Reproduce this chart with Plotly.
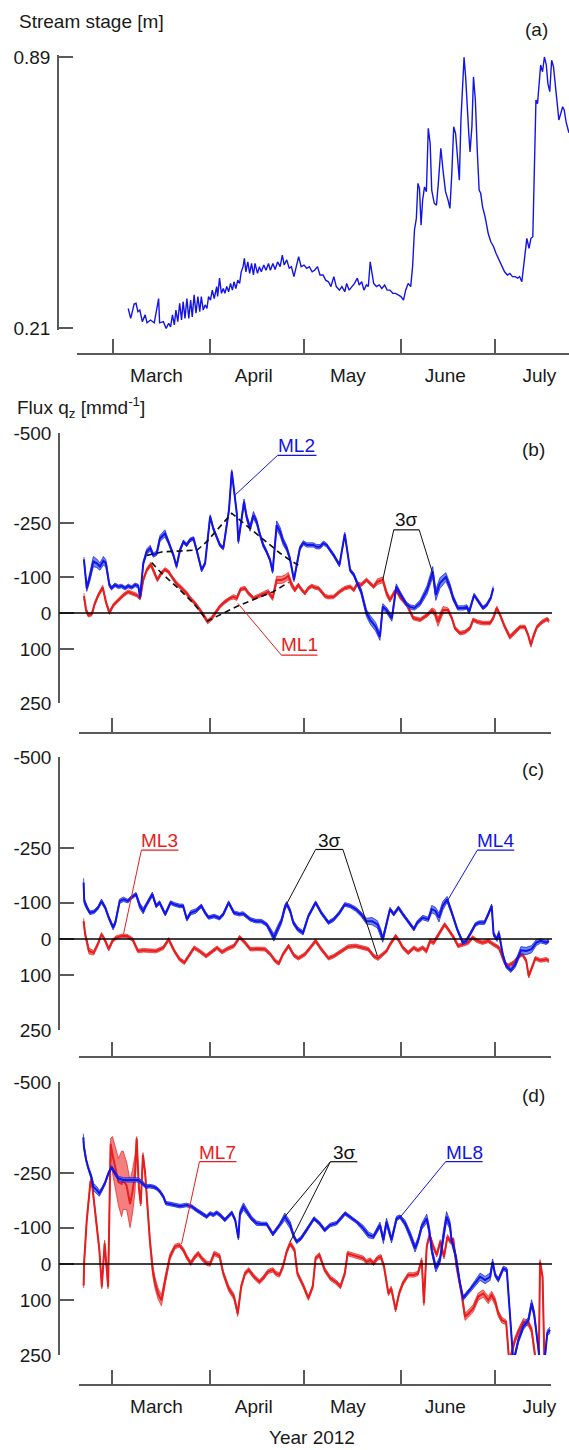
import numpy as np
import pandas as pd
import plotly.graph_objects as go

# ---------------------------------------------------------------- data
ORIGIN = pd.Timestamp("2012-03-01")   # day 0 = 1 March 2012

months = ["March", "April", "May", "June", "July"]
month_start = ["2012-03-01", "2012-04-01", "2012-05-01", "2012-06-01", "2012-07-01"]
month_label_at = ["2012-03-15", "2012-04-15", "2012-05-15", "2012-06-15", "2012-07-15"]
stage_ticks = [0.21, 0.89]
flux_ticks = [-500, -250, -100, 0, 100, 250]
flux_ticktext = ["-500", "-250", "-100", "0", "100", "250"]

# (a) stream stage [m], days since 1 March
stage_day = [
    5.0, 5.8, 6.9, 7.5, 8.1, 8.7, 9.5, 10.4, 11.0, 12.1,
    13.3, 14.7, 15.0, 16.2, 17.1, 17.9, 18.5, 19.1, 19.7, 20.2,
    20.8, 21.4, 22.0, 22.5, 23.1, 23.7, 24.3, 24.9, 25.4, 26.0,
    26.6, 27.2, 27.8, 28.3, 28.9, 29.5, 30.1, 30.6, 31.2, 31.8,
    32.4, 33.2, 33.5, 34.1, 34.7, 35.3, 35.8, 36.4, 37.0, 37.6,
    38.2, 38.7, 39.3, 39.9, 40.5, 41.0, 41.6, 42.0, 42.5, 43.1,
    43.7, 44.3, 44.9, 45.4, 46.2, 46.8, 47.4, 48.2, 48.9, 49.7,
    50.3, 51.1, 51.8, 52.6, 53.4, 54.1, 54.7, 55.5, 56.3, 57.0,
    57.8, 58.6, 59.3, 60.1, 61.0, 61.9, 62.7, 63.6, 64.4, 65.3,
    66.1, 67.1, 67.9, 68.8, 69.6, 70.5, 71.3, 72.3, 73.1, 74.0,
    74.6, 75.4, 76.3, 77.1, 78.0, 78.6, 79.4, 80.1, 80.9, 81.5,
    82.1, 82.7, 83.2, 84.1, 85.0, 85.8, 86.7, 87.5, 88.4, 89.3,
    90.2, 91.0, 91.9, 92.7, 93.4, 94.2, 95.0, 95.6, 96.2, 96.8,
    97.3, 97.8, 98.3, 98.8, 99.4, 100.0, 100.6, 101.2, 101.7, 102.5,
    103.2, 103.8, 104.6, 105.4, 106.1, 106.9, 107.5, 108.1, 108.7, 109.3,
    110.1, 110.5, 111.0, 111.6, 112.0, 112.5, 113.1, 113.5, 113.9, 114.5,
    115.0, 115.6, 116.2, 116.8, 117.3, 117.9, 118.7, 119.7, 120.5, 121.4,
    122.2, 123.1, 123.9, 124.9, 125.8, 126.6, 127.4, 128.3, 129.1, 129.7,
    130.4, 130.9, 131.5, 132.0, 132.7, 133.3, 133.9, 134.3, 134.9, 135.4,
    135.8, 136.4, 137.0, 137.6, 138.2, 138.7, 139.3, 139.9, 140.5, 141.0,
    141.6, 142.2, 142.8, 143.4, 143.9, 144.5, 145.4]
stage_m = [
    0.259, 0.234, 0.270, 0.272, 0.251, 0.255, 0.226, 0.243, 0.223, 0.230,
    0.223, 0.284, 0.223, 0.226, 0.209, 0.222, 0.213, 0.243, 0.218, 0.255,
    0.226, 0.272, 0.230, 0.276, 0.234, 0.284, 0.234, 0.280, 0.238, 0.293,
    0.247, 0.289, 0.251, 0.289, 0.255, 0.268, 0.259, 0.289, 0.280, 0.305,
    0.284, 0.314, 0.289, 0.335, 0.297, 0.309, 0.297, 0.314, 0.301, 0.322,
    0.305, 0.326, 0.309, 0.330, 0.322, 0.351, 0.364, 0.385, 0.351, 0.376,
    0.347, 0.372, 0.343, 0.372, 0.347, 0.364, 0.351, 0.368, 0.355, 0.372,
    0.355, 0.372, 0.357, 0.376, 0.364, 0.393, 0.368, 0.381, 0.360, 0.364,
    0.339, 0.368, 0.389, 0.364, 0.368, 0.360, 0.364, 0.351, 0.355, 0.364,
    0.343, 0.343, 0.330, 0.326, 0.314, 0.339, 0.314, 0.305, 0.314, 0.301,
    0.322, 0.305, 0.314, 0.322, 0.335, 0.318, 0.326, 0.305, 0.318, 0.314,
    0.376, 0.343, 0.322, 0.314, 0.318, 0.309, 0.318, 0.305, 0.305, 0.297,
    0.297, 0.293, 0.289, 0.280, 0.305, 0.322, 0.314, 0.364, 0.456, 0.485,
    0.573, 0.560, 0.468, 0.531, 0.564, 0.552, 0.711, 0.673, 0.556, 0.523,
    0.518, 0.573, 0.661, 0.598, 0.552, 0.531, 0.510, 0.598, 0.715, 0.698,
    0.615, 0.581, 0.732, 0.832, 0.889, 0.840, 0.740, 0.698, 0.652, 0.715,
    0.840, 0.782, 0.656, 0.556, 0.548, 0.514, 0.489, 0.447, 0.427, 0.414,
    0.397, 0.381, 0.368, 0.351, 0.343, 0.347, 0.339, 0.339, 0.335, 0.339,
    0.326, 0.364, 0.410, 0.435, 0.410, 0.435, 0.439, 0.615, 0.782, 0.773,
    0.811, 0.870, 0.853, 0.890, 0.870, 0.824, 0.803, 0.882, 0.865, 0.824,
    0.782, 0.732, 0.748, 0.765, 0.757, 0.727, 0.700]

# (b) ML2 flux [mm/d] (negative = upward), and 3-sigma half width
ml2_day = [
    -9.1, -8.2, -7.2, -6.1, -5.0, -4.0, -2.9, -2.1, -1.0, -0.3,
    0.8, 1.9, 2.9, 4.0, 5.0, 6.1, 7.2, 8.2, 8.8, 9.8,
    10.9, 12.0, 13.0, 14.1, 15.1, 16.7, 17.8, 19.4, 20.4, 21.5,
    22.6, 23.6, 24.7, 25.8, 26.8, 27.7, 28.4, 29.5, 30.5, 31.1,
    32.1, 33.2, 34.2, 35.3, 36.4, 37.1, 38.0, 38.7, 39.6, 40.1,
    41.2, 41.9, 42.7, 43.8, 44.9, 45.9, 47.0, 48.0, 49.1, 50.2,
    51.0, 51.8, 52.3, 53.4, 54.4, 55.5, 56.5, 57.8, 58.7, 59.7,
    60.8, 61.9, 62.9, 64.0, 65.0, 66.1, 67.2, 68.2, 69.3, 70.5,
    72.3, 74.0, 75.7, 76.9, 78.0, 79.2, 80.9, 82.1, 83.8, 85.2,
    86.1, 87.3, 89.0, 90.4, 91.9, 93.6, 94.8, 96.2, 98.0, 100.2,
    102.0, 103.0, 104.3, 106.2, 107.5, 108.5, 110.0, 111.7, 112.9, 113.6,
    115.2, 116.4, 118.0, 119.2, 120.5, 121.3]
ml2_q = [
    -149, -68, -101, -143, -138, -129, -145, -138, -78, -69,
    -78, -73, -75, -69, -75, -71, -78, -75, -44, -138,
    -170, -180, -161, -166, -207, -221, -198, -161, -129, -175,
    -198, -189, -203, -207, -175, -143, -119, -138, -212, -268,
    -235, -212, -189, -180, -249, -286, -393, -342, -277, -198,
    -268, -309, -268, -235, -272, -254, -217, -189, -170, -147,
    -115, -194, -244, -226, -198, -180, -152, -92, -138, -180,
    -195, -189, -189, -189, -184, -184, -194, -189, -175, -160,
    -133, -219, -119, -106, -82, -60, 0, 19, 38, 66,
    -18, -8, 15, -73, -50, -25, -17, -14, -28, -64,
    -114, -50, -83, -100, -72, -42, -14, -14, -17, -3,
    -50, -36, -14, -22, -42, -69]
ml2_s = [
    6, 8, 12, 14, 12, 10, 12, 10, 6, 5,
    5, 5, 5, 5, 5, 5, 5, 5, 4, 6,
    8, 8, 6, 6, 8, 10, 6, 5, 5, 5,
    5, 5, 5, 5, 5, 5, 5, 5, 5, 5,
    5, 5, 5, 5, 5, 5, 5, 5, 5, 5,
    6, 8, 8, 8, 10, 8, 6, 6, 5, 5,
    5, 10, 12, 12, 10, 8, 6, 5, 5, 6,
    6, 6, 6, 6, 6, 6, 6, 5, 5, 5,
    5, 5, 5, 5, 6, 8, 10, 12, 12, 10,
    8, 8, 8, 8, 6, 6, 6, 6, 8, 12,
    15, 15, 15, 12, 10, 8, 6, 6, 6, 6,
    5, 5, 5, 5, 5, 5]

# (b) ML1
ml1_day = [
    -9.1, -8.4, -7.7, -6.6, -5.6, -4.5, -3.1, -2.1, -1.0, 0.3,
    1.9, 3.5, 5.0, 6.6, 7.7, 8.8, 9.8, 10.9, 12.2, 13.0,
    14.3, 15.5, 16.7, 17.8, 18.8, 20.4, 22.0, 23.6, 24.7, 26.3,
    27.9, 29.2, 30.3, 31.6, 32.7, 34.2, 35.8, 37.4, 38.5, 39.6,
    40.8, 42.2, 43.3, 44.9, 46.5, 48.1, 49.6, 51.0, 52.3, 53.9,
    55.0, 56.0, 57.1, 58.1, 59.2, 60.3, 61.3, 62.4, 63.5, 64.5,
    65.6, 66.6, 67.7, 68.8, 70.5, 72.3, 74.0, 75.7, 76.9, 78.0,
    79.2, 80.9, 82.1, 83.2, 84.4, 86.1, 87.3, 88.4, 89.6, 90.4,
    91.6, 93.8, 95.8, 98.0, 100.2, 101.8, 102.7, 103.7, 105.3, 106.9,
    108.1, 109.1, 110.7, 112.3, 113.9, 114.9, 116.4, 118.0, 120.3, 121.3,
    122.4, 123.5, 125.0, 126.6, 128.2, 129.8, 131.4, 132.4, 133.3, 134.0,
    135.2, 136.8, 138.4, 139.1]
ml1_q = [
    -47, -8, 6, 3, -27, -50, -71, -31, -1, -22,
    -36, -50, -59, -54, -50, -41, -92, -119, -135, -119,
    -92, -110, -121, -115, -101, -82, -69, -55, -41, -27,
    -8, 10, 24, 15, 1, -18, -31, -41, -45, -41,
    -66, -69, -55, -41, -47, -53, -59, -41, -92, -92,
    -96, -103, -78, -64, -78, -64, -55, -69, -75, -71,
    -69, -59, -47, -44, -45, -59, -69, -73, -64, -82,
    -78, -92, -82, -73, -87, -92, -55, -36, -55, -64,
    -44, -22, 14, 19, 6, -8, 0, 25, -8, -8,
    14, 42, 56, 53, 42, 19, 25, 28, 28, 14,
    -14, 6, 39, 67, 53, 39, 39, 61, 89, 67,
    39, 25, 17, 22]
ml1_s = [
    8, 6, 5, 5, 5, 5, 6, 5, 5, 5,
    5, 5, 5, 5, 5, 5, 5, 5, 6, 6,
    5, 5, 5, 5, 5, 6, 6, 6, 6, 5,
    5, 6, 6, 6, 5, 5, 5, 5, 6, 6,
    5, 5, 5, 5, 5, 5, 6, 6, 10, 10,
    10, 10, 8, 6, 5, 5, 5, 5, 5, 5,
    5, 5, 5, 5, 5, 5, 5, 5, 5, 5,
    5, 5, 5, 5, 8, 8, 8, 6, 6, 6,
    5, 5, 5, 5, 5, 6, 10, 12, 10, 6,
    5, 5, 5, 5, 5, 5, 5, 5, 5, 5,
    5, 5, 5, 6, 6, 5, 5, 5, 6, 6,
    5, 5, 5, 5]

# (b) smoothed trends (dashed)
trend2_day = [11.0, 16.0, 21.0, 27.0, 30.0, 34.2, 38.0, 40.6, 43.8, 47.0, 50.2, 53.4, 56.5, 59.2]
trend2_q = [-160, -170, -172, -175, -198, -240, -277, -258, -235, -212, -189, -166, -147, -133]
trend1_day = [12.5, 15.7, 21.5, 25.8, 30.3, 34.2, 39.6, 45.9, 51.2, 56.1]
trend1_q = [-140, -110, -64, -27, 22, 6, -18, -41, -59, -85]

# (c) ML4
ml4_day = [
    -9.2, -9.0, -8.1, -7.2, -5.8, -4.6, -3.5, -2.3, -1.2, 0.2,
    0.9, 2.3, 3.5, 4.9, 6.0, 7.5, 8.7, 9.8, 10.6, 12.7,
    13.9, 15.0, 16.8, 18.5, 19.7, 21.4, 22.5, 23.7, 24.9, 26.6,
    28.3, 29.5, 30.6, 32.4, 34.1, 35.3, 37.0, 38.7, 40.5, 41.6,
    43.9, 45.7, 47.4, 49.1, 50.3, 51.4, 52.6, 53.8, 54.9, 55.5,
    56.6, 57.6, 59.0, 60.7, 62.4, 64.7, 66.5, 68.8, 70.5, 72.3,
    74.0, 75.7, 77.5, 79.2, 80.9, 82.7, 84.4, 85.5, 86.1, 87.3,
    88.4, 89.6, 91.1, 92.5, 94.2, 96.0, 97.1, 98.8, 100.6, 101.7,
    102.9, 104.0, 105.2, 106.6, 108.1, 109.8, 111.6, 112.7, 113.9, 115.6,
    116.8, 118.5, 119.7, 120.8, 121.4, 122.5, 123.1, 124.3, 125.4, 126.9,
    128.3, 130.1, 131.8, 133.5, 135.0, 136.4, 138.2, 139.0]
ml4_q = [
    -155, -104, -86, -72, -75, -86, -104, -86, -59, -31,
    -45, -104, -109, -104, -114, -123, -91, -77, -91, -123,
    -91, -100, -68, -100, -95, -91, -91, -54, -72, -77,
    -91, -72, -59, -63, -57, -68, -100, -72, -68, -70,
    -54, -49, -49, -40, -22, -4, -27, -49, -86, -97,
    -77, -45, -27, -17, -63, -100, -72, -45, -54, -72,
    -95, -91, -82, -68, -49, -49, -40, -17, 1, -40,
    -82, -68, -86, -68, -49, -27, -45, -59, -54, -82,
    -77, -59, -91, -109, -72, -27, 10, 5, -13, -40,
    -45, -45, -68, -91, -13, 1, -17, 42, 74, 86,
    70, 31, 33, 28, 10, 5, 10, 5]
ml4_s = [
    12, 8, 6, 5, 5, 5, 6, 5, 5, 6,
    6, 6, 6, 5, 5, 5, 8, 8, 6, 6,
    5, 5, 5, 5, 5, 5, 5, 5, 6, 6,
    5, 5, 5, 5, 5, 5, 5, 5, 5, 5,
    5, 5, 5, 5, 8, 10, 10, 8, 8, 6,
    6, 6, 6, 6, 5, 5, 5, 5, 5, 5,
    5, 5, 6, 6, 8, 10, 10, 10, 8, 6,
    5, 5, 5, 5, 5, 5, 6, 6, 6, 10,
    10, 12, 12, 8, 6, 5, 5, 5, 5, 5,
    5, 5, 5, 5, 6, 6, 6, 6, 6, 6,
    8, 10, 10, 10, 8, 6, 5, 5]

# (c) ML3
ml3_day = [
    -9.2, -8.7, -7.5, -6.0, -4.6, -3.5, -2.3, -1.2, 0.0, 1.2,
    2.9, 4.6, 6.4, 8.1, 9.8, 11.6, 13.9, 16.2, 17.9, 19.7,
    21.4, 22.9, 24.3, 26.0, 27.7, 29.8, 31.2, 33.3, 34.9, 36.4,
    38.7, 40.5, 42.2, 43.9, 46.2, 48.6, 50.3, 51.8, 53.0, 54.3,
    56.1, 57.8, 59.2, 61.3, 63.0, 64.7, 66.5, 68.8, 70.5, 72.8,
    75.1, 77.5, 79.8, 81.5, 83.2, 84.6, 86.1, 87.3, 88.4, 90.2,
    91.3, 92.5, 94.2, 96.0, 97.3, 98.8, 100.0, 101.2, 102.3, 104.0,
    105.8, 106.9, 108.7, 110.1, 111.6, 113.3, 114.7, 116.2, 117.9, 119.7,
    121.4, 123.1, 124.9, 126.0, 127.8, 129.5, 130.6, 131.8, 132.6, 133.5,
    134.7, 136.4, 138.2, 139.0]
ml3_q = [
    -49, -13, 33, 38, 13, -13, 5, 28, 5, -4,
    -8, -8, 1, 33, 31, 31, 33, 24, 1, 33,
    56, 65, 47, 24, 33, 47, 38, 24, 36, 28,
    19, -5, 10, 28, 27, 28, 42, 60, 67, 42,
    19, 45, 53, 42, 24, 5, 28, 53, 47, 33,
    21, 19, 24, 28, 47, 53, 42, 33, 15, -8,
    5, 24, 38, 24, 31, 24, 33, 5, 10, -13,
    -40, -27, -4, 19, 15, 10, -4, 5, 10, 5,
    15, 24, 65, 74, 65, 47, 42, 60, 102, 79,
    53, 59, 56, 60]
ml3_s = [
    8, 6, 8, 6, 5, 5, 5, 5, 5, 5,
    5, 5, 5, 5, 5, 5, 5, 5, 5, 5,
    5, 5, 5, 5, 5, 5, 5, 5, 5, 5,
    5, 5, 5, 5, 5, 5, 5, 5, 5, 5,
    5, 5, 5, 5, 5, 5, 5, 5, 5, 5,
    5, 5, 5, 5, 5, 6, 5, 5, 5, 5,
    5, 5, 5, 5, 5, 5, 6, 6, 6, 5,
    5, 5, 5, 5, 5, 5, 5, 5, 5, 5,
    5, 5, 5, 5, 5, 5, 5, 5, 5, 5,
    5, 5, 5, 5]

# (d) ML8
ml8_day = [
    -9.3, -9.1, -8.4, -7.7, -6.6, -6.1, -5.0, -4.2, -3.5, -2.4,
    -1.3, -0.3, 0.8, 1.9, 3.5, 5.0, 6.6, 8.2, 9.6, 10.7,
    11.7, 13.0, 14.1, 15.1, 16.2, 17.0, 18.3, 19.9, 21.5, 23.6,
    25.2, 26.8, 28.4, 30.0, 31.1, 32.1, 33.2, 34.2, 35.8, 36.9,
    38.0, 39.1, 40.1, 40.6, 41.7, 42.8, 44.3, 45.9, 47.4, 49.1,
    51.1, 53.2, 54.9, 56.6, 57.8, 58.7, 60.1, 61.8, 64.2, 65.9,
    67.6, 69.3, 71.4, 74.1, 76.2, 77.8, 79.9, 81.5, 83.1, 85.2,
    86.3, 87.3, 88.9, 90.5, 91.6, 93.2, 94.8, 96.4, 97.4, 98.5,
    100.1, 100.9, 101.7, 103.0, 104.3, 105.4, 106.4, 107.5, 108.0, 109.4,
    110.7, 111.7, 113.9, 115.5, 117.1, 118.7, 120.3, 121.1, 121.9, 122.9,
    124.5, 125.6, 126.6, 127.7, 129.3, 130.9, 132.5, 133.5, 134.3, 135.1,
    136.2, 137.6, 138.5, 139.4]
ml8_q = [
    -348, -322, -286, -263, -235, -212, -203, -194, -203, -222,
    -249, -266, -249, -235, -231, -231, -233, -231, -222, -212,
    -214, -212, -208, -199, -185, -167, -165, -162, -159, -162,
    -158, -148, -139, -130, -139, -135, -141, -135, -121, -130,
    -141, -121, -71, -139, -158, -144, -125, -112, -110, -110,
    -82, -107, -130, -107, -75, -61, -71, -93, -125, -112,
    -93, -107, -112, -139, -125, -116, -98, -80, -75, -107,
    -66, -116, -66, -125, -130, -112, -80, -43, -66, -103,
    -125, -93, -38, 12, -11, -80, -130, -107, -66, -20,
    53, 94, 71, 53, 35, 44, 35, -6, 30, 44,
    12, 16, 154, 270, 209, 172, 154, 108, 136, 200,
    270, 270, 190, 181]
ml8_s = [
    10, 8, 6, 6, 8, 10, 10, 8, 6, 5,
    5, 5, 6, 6, 6, 6, 6, 6, 6, 5,
    5, 5, 5, 5, 5, 5, 5, 5, 5, 5,
    5, 5, 5, 5, 5, 5, 5, 5, 5, 5,
    5, 5, 5, 8, 10, 8, 6, 6, 5, 5,
    5, 5, 10, 10, 6, 5, 5, 5, 5, 5,
    5, 5, 5, 5, 5, 5, 8, 8, 6, 8,
    10, 10, 8, 6, 5, 8, 10, 10, 8, 8,
    12, 12, 10, 10, 10, 12, 14, 12, 10, 8,
    6, 6, 6, 8, 10, 10, 10, 8, 6, 6,
    6, 6, 6, 6, 8, 8, 8, 10, 10, 8,
    6, 6, 8, 8]

# (d) ML7
ml7_day = [
    -9.2, -9.0, -8.2, -7.4, -7.0, -6.4, -5.2, -4.2, -3.4, -2.5,
    -1.4, -0.6, 0.0, 0.8, 1.9, 2.9, 3.4, 4.5, 5.6, 6.4,
    7.2, 7.7, 8.4, 9.0, 9.7, 10.4, 11.1, 11.9, 12.8, 13.5,
    14.5, 15.6, 16.8, 18.3, 19.9, 21.3, 22.6, 23.6, 24.9, 26.3,
    27.3, 28.4, 30.0, 31.1, 32.4, 34.1, 35.3, 37.0, 38.7, 39.9,
    41.0, 42.2, 43.4, 45.1, 46.8, 48.0, 49.5, 51.1, 52.0, 53.2,
    54.3, 55.5, 56.6, 58.0, 58.9, 60.7, 62.4, 63.8, 64.7, 65.9,
    67.6, 69.4, 71.1, 72.6, 74.0, 74.9, 76.3, 78.0, 79.8, 80.9,
    82.1, 83.2, 84.4, 85.5, 86.5, 87.9, 88.8, 90.2, 91.3, 92.5,
    94.2, 96.0, 97.3, 98.5, 99.2, 100.1, 101.0, 102.2, 103.3, 104.4,
    105.6, 106.7, 107.7, 108.6, 109.6, 111.2, 112.3, 113.4, 114.9, 116.5,
    118.1, 119.7, 120.8, 121.9, 122.9, 124.0, 125.4, 126.4, 128.2, 129.3,
    130.9, 132.5, 133.5, 134.9, 135.8, 136.2, 137.0, 137.6, 139.0]
ml7_q = [
    60, -10, -120, -205, -228, -212, -121, -40, 62, -57,
    62, -330, -300, -270, -225, -220, -230, -215, -165, -200,
    -250, -345, -210, -165, -300, -250, -160, -66, 16, 50,
    81, 100, 44, -20, -48, -52, -38, -20, -2, -20,
    -29, -16, -2, 0, -29, -22, 26, 67, 90, 136,
    62, 26, 16, 35, 49, 39, 21, 16, 26, 30,
    7, -34, -57, -38, 26, 58, 94, 62, -16, -25,
    16, 39, 49, 62, 26, -29, -25, -20, -16, -6,
    -11, -2, -16, -20, 7, 81, 67, 126, 81, 53,
    30, 30, 26, -11, 108, -48, -80, -48, -25, -61,
    -20, -75, -61, -66, 7, 81, 145, 136, 122, 90,
    81, 99, 85, 103, 136, 154, 160, 270, 209, 186,
    158, 163, 181, 270, 270, -6, 35, 270, 270]
ml7_s = [
    6, 6, 6, 6, 6, 6, 6, 6, 6, 8,
    6, 15, 50, 55, 65, 90, 80, 65, 65, 60,
    50, 5, 6, 6, 6, 6, 6, 10, 15, 15,
    15, 15, 12, 8, 6, 6, 6, 6, 6, 6,
    6, 6, 6, 6, 6, 6, 6, 8, 8, 8,
    6, 6, 6, 6, 6, 6, 6, 6, 6, 6,
    6, 6, 6, 6, 6, 6, 6, 6, 6, 6,
    6, 6, 6, 6, 6, 6, 6, 6, 6, 6,
    6, 6, 6, 6, 6, 6, 6, 6, 6, 6,
    6, 6, 6, 6, 6, 6, 6, 6, 6, 6,
    6, 6, 6, 6, 6, 8, 10, 10, 10, 10,
    10, 10, 10, 10, 8, 8, 6, 6, 8, 8,
    8, 8, 8, 6, 6, 6, 6, 6, 6]

for a, b in [(stage_day, stage_m), (ml2_day, ml2_q), (ml2_day, ml2_s), (ml1_day, ml1_q), (ml1_day, ml1_s),
             (ml4_day, ml4_q), (ml4_day, ml4_s), (ml3_day, ml3_q), (ml3_day, ml3_s),
             (ml8_day, ml8_q), (ml8_day, ml8_s), (ml7_day, ml7_q), (ml7_day, ml7_s),
             (trend1_day, trend1_q), (trend2_day, trend2_q)]:
    assert len(a) == len(b), (len(a), len(b))

# ---------------------------------------------------------------- style / layout
W, H = 569, 1450
FONT = "Liberation Sans, Arial, Helvetica, sans-serif"
TXT = "#1a1a1a"
AX = "#5a5a5a"
BLUE = "#1414e6"
RED = "#e61e1e"
BLUE_FILL = "rgba(70,110,235,0.8)"
RED_FILL = "rgba(242,95,95,0.8)"
FS = 19


def dates(days):
    return ORIGIN + pd.to_timedelta(np.asarray(days, dtype=float), unit="D")


def dstr(day):
    return (ORIGIN + pd.Timedelta(days=float(day))).strftime("%Y-%m-%d %H:%M:%S")


# pixel geometry of each panel: y of upper/lower range end, x-axis line y, x domain, y-axis line x
PANELS = [
    dict(top=55, bot=330, xline=354, x0=77, x1=569, yx=58, xr=(-11.31, 145.43), labels=True),
    dict(top=433, bot=703, xline=733, x0=79, x1=551, yx=59, xr=(-10.67, 139.69), labels=False),
    dict(top=757, bot=1030, xline=1057, x0=79, x1=551, yx=59, xr=(-10.67, 139.69), labels=False),
    dict(top=1082, bot=1355, xline=1385, x0=79, x1=551, yx=59, xr=(-10.67, 139.69), labels=True),
]

fig = go.Figure()
layout = dict(width=W, height=H, margin=dict(l=0, r=0, t=0, b=0, pad=0), autosize=False,
              paper_bgcolor="white", plot_bgcolor="rgba(0,0,0,0)", showlegend=False,
              font=dict(family=FONT, size=FS, color=TXT))

for i, p in enumerate(PANELS):
    n = "" if i == 0 else str(i + 1)
    xa = dict(
        type="date", domain=[p["x0"] / W, p["x1"] / W], anchor="free", position=1 - p["xline"] / H,
        range=[dstr(p["xr"][0]), dstr(p["xr"][1])], automargin=False,
        showline=True, linecolor=AX, linewidth=1.5, showgrid=False, zeroline=False,
        tickmode="array", tickvals=month_label_at, ticktext=months, ticks="",
        showticklabels=p["labels"], ticklabelstandoff=4,
        tickfont=dict(size=FS, color=TXT, family=FONT),
        minor=dict(tickmode="array", tickvals=month_start, ticks="inside", ticklen=14,
                   tickwidth=1.5, tickcolor=AX, showgrid=False),
        fixedrange=True,
    )
    if i == 0:
        yr = [0.205, 0.895]
        tv, tt = stage_ticks, ["0.21", "0.89"]
    else:
        yr = [250, -500]
        tv, tt = flux_ticks, flux_ticktext
    ya = dict(
        domain=[1 - p["bot"] / H, 1 - p["top"] / H], anchor="free", position=p["yx"] / W,
        range=yr, automargin=False, showline=True, linecolor=AX, linewidth=1.5, showgrid=False,
        zeroline=False, tickmode="array", tickvals=tv, ticktext=tt, ticks="inside", ticklen=14,
        tickwidth=1.5, tickcolor=AX, ticklabelstandoff=3,
        tickfont=dict(size=FS, color=TXT, family=FONT), fixedrange=True,
    )
    layout["xaxis" + n] = xa
    layout["yaxis" + n] = ya

fig.update_layout(**layout)

# (a) stream stage
fig.add_trace(go.Scatter(x=dates(stage_day), y=stage_m, mode="lines",
                         line=dict(color=BLUE, width=1.4), xaxis="x", yaxis="y"))


def add_band(days, q, s, k, color, fill):
    d = dates(days)
    q = np.asarray(q, float)
    s = np.asarray(s, float)
    xa, ya = "x" + str(k), "y" + str(k)
    fig.add_trace(go.Scatter(x=d, y=q - s, mode="lines", line=dict(color=color, width=0.7),
                             xaxis=xa, yaxis=ya, hoverinfo="skip"))
    fig.add_trace(go.Scatter(x=d, y=q + s, mode="lines", line=dict(color=color, width=0.7),
                             fill="tonexty", fillcolor=fill, xaxis=xa, yaxis=ya, hoverinfo="skip"))
    fig.add_trace(go.Scatter(x=d, y=q, mode="lines", line=dict(color=color, width=2),
                             xaxis=xa, yaxis=ya))


add_band(ml1_day, ml1_q, ml1_s, 2, RED, RED_FILL)
add_band(ml2_day, ml2_q, ml2_s, 2, BLUE, BLUE_FILL)
for td, tq in [(trend2_day, trend2_q), (trend1_day, trend1_q)]:
    fig.add_trace(go.Scatter(x=dates(td), y=tq, mode="lines",
                             line=dict(color="#111111", width=1.6, dash="6px,4px"),
                             xaxis="x2", yaxis="y2"))
add_band(ml3_day, ml3_q, ml3_s, 3, RED, RED_FILL)
add_band(ml4_day, ml4_q, ml4_s, 3, BLUE, BLUE_FILL)
add_band(ml7_day, ml7_q, ml7_s, 4, RED, RED_FILL)
add_band(ml8_day, ml8_q, ml8_s, 4, BLUE, BLUE_FILL)

# zero lines (from y-axis to the right end), placed through the flux scale
for p in PANELS[1:]:
    frac = (0 - 250) / (-500 - 250)
    ypx = p["bot"] - frac * (p["bot"] - p["top"])
    fig.add_shape(type="line", xref="paper", yref="paper", x0=p["yx"] / W, x1=552 / W,
                  y0=1 - ypx / H, y1=1 - ypx / H, line=dict(color="black", width=1.5))


# labels with underline + leader lines (positions in day / flux units)
def add_label(k, text, color, tx, tq, u0, u1, uq, targets):
    xr, yr = "x" + str(k), "y" + str(k)
    fig.add_annotation(x=dstr(tx), y=tq, xref=xr, yref=yr, text=text, showarrow=False,
                       font=dict(size=FS, color=color, family=FONT), xanchor="center", yanchor="middle")
    fig.add_shape(type="line", xref=xr, yref=yr, x0=dstr(u0), x1=dstr(u1), y0=uq, y1=uq,
                  line=dict(color=color, width=1.2))
    for sd, ed, eq in targets:
        fig.add_shape(type="line", xref=xr, yref=yr, x0=dstr(sd), y0=uq, x1=dstr(ed), y1=eq,
                      line=dict(color=color, width=1))


add_label(2, "ML2", BLUE, 58.7, -466, 52.6, 65.0, -438, [(52.6, 39.1, -328)])
add_label(2, "ML1", RED, 59.5, 88, 53.8, 65.3, 117, [(53.8, 39.9, -27)])
add_label(2, "3σ", "#111111", 93.6, -260, 89.6, 97.7, -231, [(89.6, 86.1, -92), (97.7, 102.0, -110)])
add_label(3, "ML3", RED, 15.0, -270, 9.2, 21.0, -244, [(9.2, 3.5, -13)])
add_label(3, "3σ", "#111111", 69.0, -270, 64.7, 73.4, -246, [(64.7, 55.5, -97), (73.4, 84.4, 47)])
add_label(3, "ML4", BLUE, 122.0, -270, 116.2, 128.0, -244, [(116.2, 106.6, -104)])
add_label(4, "ML7", RED, 33.5, -305, 27.7, 39.5, -281, [(27.7, 22.0, -55)])
add_label(4, "3σ", "#111111", 74.0, -305, 69.4, 78.0, -281, [(69.4, 54.9, -130), (69.4, 56.6, -61)])
add_label(4, "ML8", BLUE, 112.1, -305, 106.1, 117.9, -281, [(106.1, 91.3, -125)])

# titles and panel letters
texts = [
    ("Stream stage [m]", 17, 21, "left"),
    ("Flux q<sub>z</sub> [mmd<sup>-1</sup>]", 15, 407, "left"),
    ("(a)", 536, 29, "center"),
    ("(b)", 533, 450, "center"),
    ("(c)", 533, 770, "center"),
    ("(d)", 533, 1095, "center"),
    ("Year 2012", 312, 1437, "center"),
]
for t, x, y, anc in texts:
    fig.add_annotation(x=x / W, y=1 - y / H, xref="paper", yref="paper", text=t, showarrow=False,
                       xanchor=anc, yanchor="middle", font=dict(size=FS, color=TXT, family=FONT))

fig.write_html("out.html")
